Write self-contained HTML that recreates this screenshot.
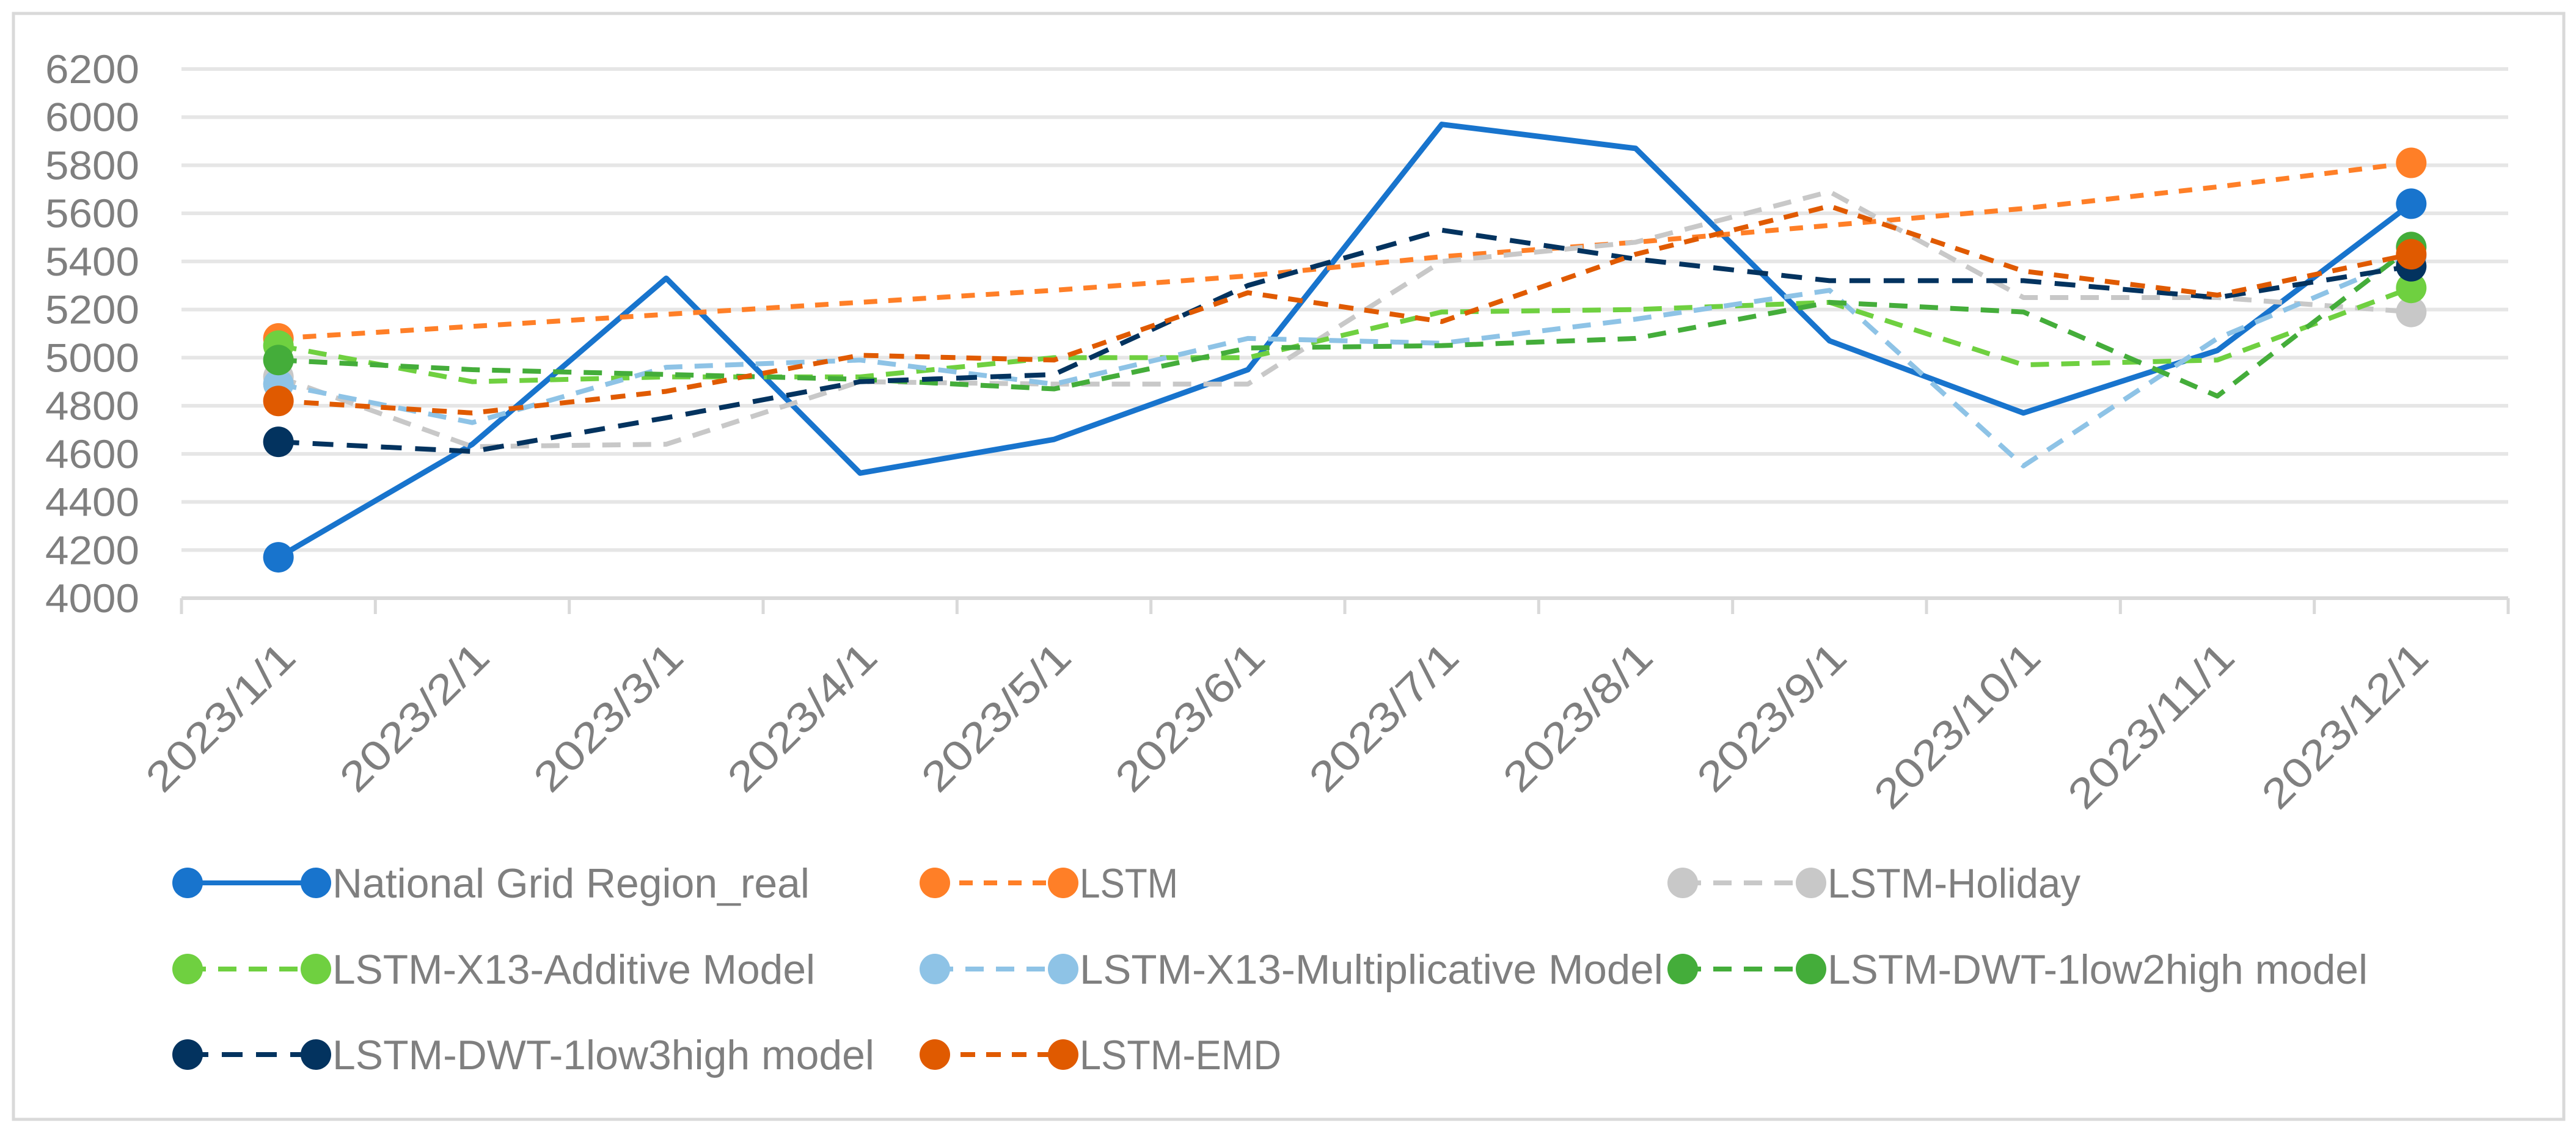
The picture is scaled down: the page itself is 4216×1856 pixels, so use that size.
<!DOCTYPE html>
<html><head><meta charset="utf-8"><style>
html,body{margin:0;padding:0;background:#fff;}
svg{display:block;}
text{font-family:"Liberation Sans",sans-serif;fill:#7f7f7f;}
</style></head>
<body>
<svg id="chart" width="4216" height="1856" viewBox="0 0 4216 1856" xmlns="http://www.w3.org/2000/svg">
<rect x="22" y="22" width="4174" height="1810" fill="#fff" stroke="#d9d9d9" stroke-width="5"/>
<g id="grid"></g><g id="axes"></g><g id="series"></g><g id="legend"></g>
</svg>
<script>
const categories = ["2023/1/1","2023/2/1","2023/3/1","2023/4/1","2023/5/1","2023/6/1","2023/7/1","2023/8/1","2023/9/1","2023/10/1","2023/11/1","2023/12/1"];
const yTicks = [4000,4200,4400,4600,4800,5000,5200,5400,5600,5800,6000,6200];
const seriesNames = ["National Grid Region_real","LSTM","LSTM-Holiday","LSTM-X13-Additive Model","LSTM-X13-Multiplicative Model","LSTM-DWT-1low2high model","LSTM-DWT-1low3high model","LSTM-EMD"];
const realValues = [4170,4640,5330,4520,4660,4950,5970,5870,5070,4770,5030,5640];
const lstmValues = [5080,5130,5180,5230,5280,5340,5420,5480,5550,5620,5710,5810];
const holidayValues = [4920,4630,4640,4900,4890,4890,5400,5480,5690,5250,5250,5190];
const additiveValues = [5050,4900,4920,4920,5000,5000,5190,5200,5230,4970,4990,5290];
const multiplicativeValues = [4890,4730,4960,4990,4890,5080,5060,5160,5280,4550,5080,5420];
const dwt2Values = [4990,4950,4930,4910,4870,5040,5050,5080,5230,5190,4840,5460];
const dwt3Values = [4650,4610,4750,4900,4930,5300,5530,5410,5320,5320,5250,5380];
const emdValues = [4820,4770,4860,5010,4990,5270,5150,5430,5630,5360,5260,5430];

const NS="http://www.w3.org/2000/svg";
const plotL=297, plotR=4105, yTop=113, yBot=979, yMin=4000, yMax=6200;
const step=(plotR-plotL)/categories.length;
const xPos=i=>plotL+step*(i+0.5);
const yPos=v=>yBot-(v-yMin)/(yMax-yMin)*(yBot-yTop);
function mk(tag,attrs,parent){const e=document.createElementNS(NS,tag);for(const k in attrs)e.setAttribute(k,attrs[k]);parent.appendChild(e);return e;}
const grid=document.getElementById('grid'),axes=document.getElementById('axes'),ser=document.getElementById('series'),leg=document.getElementById('legend');

yTicks.forEach(v=>{
  if(v!==yMin){const l=mk('line',{x1:plotL,x2:plotR,y1:yPos(v),y2:yPos(v),stroke:'#e6e6e6','stroke-width':6},grid);
  
  }
  const t=mk('text',{x:228,y:yPos(v)+23,'text-anchor':'end','font-size':66,textLength:154,lengthAdjust:'spacingAndGlyphs'},axes);
  t.textContent=v;
  
  
});
const ax=mk('line',{x1:plotL,x2:plotR,y1:yBot,y2:yBot,stroke:'#d9d9d9','stroke-width':6},axes);


for(let i=0;i<=categories.length;i++){
  const tk=mk('line',{x1:plotL+step*i,x2:plotL+step*i,y1:yBot,y2:yBot+26,stroke:'#d9d9d9','stroke-width':5},axes);
  
  
}
categories.forEach((c,i)=>{
  const x=xPos(i)+32,y=1080;
  const t=mk('text',{x:x,y:y,'text-anchor':'end','font-size':68,textLength:39*c.length,lengthAdjust:'spacingAndGlyphs',transform:`rotate(-45 ${x} ${y})`,fill:'#595959'},axes);
  t.textContent=c;
  
  
});

const allValues=[realValues,lstmValues,holidayValues,additiveValues,multiplicativeValues,dwt2Values,dwt3Values,emdValues];
const colors=["#1874cd","#ff7f27","#c8c8c8","#6fd040","#8ec3e6","#44ad3a","#03335f","#e05a00"];
const dashes=["","22 18","30 20","30 20","30 20","30 20","34 22","24 18"];
allValues.forEach((vals,s)=>{
  const g=mk('g',{},ser);
  
  
  const pts=vals.map((v,i)=>xPos(i)+','+yPos(v)).join(' ');
  const pl=mk('polyline',{points:pts,fill:'none',stroke:colors[s],'stroke-width':s===0?9:8,'stroke-linejoin':'round'},g);
  if(dashes[s])pl.setAttribute('stroke-dasharray',dashes[s]);
  
  
  [0,vals.length-1].forEach(i=>{
    const m=mk('ellipse',{cx:xPos(i),cy:yPos(vals[i]),rx:25,ry:25,fill:colors[s]},g);
    
    
  });
});

const legX=[307,1530,2754], legY=[1445,1586,1726];
const legW=[781,161,414,790,955,884,887,330];
seriesNames.forEach((n,s)=>{
  const x=legX[s%3], y=legY[Math.floor(s/3)];
  const g=mk('g',{},leg);
  
  
  const l=mk('line',{x1:x,x2:x+210,y1:y,y2:y,stroke:colors[s],'stroke-width':8},g);
  if(dashes[s])l.setAttribute('stroke-dasharray',dashes[s]);
  
  
  [x,x+210].forEach(cx=>{const m=mk('ellipse',{cx:cx,cy:y,rx:25,ry:25,fill:colors[s]},g);
    
    });
  const t=mk('text',{x:x+237,y:y+24,'font-size':68,textLength:legW[s],lengthAdjust:'spacingAndGlyphs'},g);
  t.textContent=n;
  
  
});
</script>
</body></html>
